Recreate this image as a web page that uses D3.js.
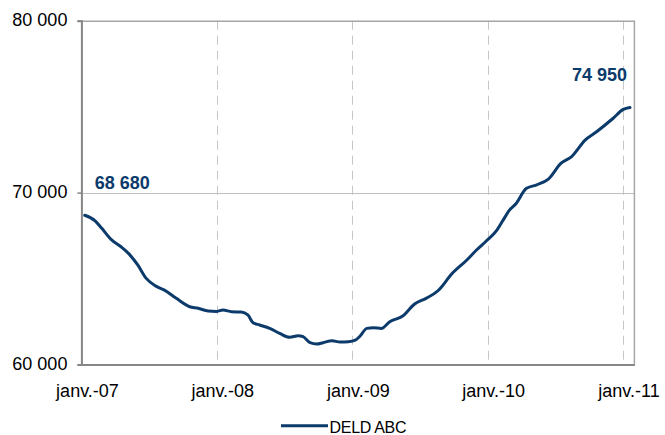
<!DOCTYPE html>
<html>
<head>
<meta charset="utf-8">
<script src="https://cdn.jsdelivr.net/npm/d3@7"></script>
<style>
  html, body { margin: 0; padding: 0; background: #fff; }
  svg { display: block; font-family: "Liberation Sans", Arial, sans-serif; }
</style>
</head>
<body>
<svg id="chart" width="665" height="435"></svg>
<script>
// ---- data ----
const dates = [
  "2007-01-10","2007-02-07","2007-02-25","2007-03-22","2007-04-18","2007-05-10","2007-06-02","2007-06-25",
  "2007-07-21","2007-08-13","2007-09-14","2007-10-20","2007-11-12","2007-12-09","2008-01-01","2008-01-18",
  "2008-02-10","2008-03-07","2008-03-25","2008-04-08","2008-04-26","2008-05-23","2008-06-19","2008-07-16",
  "2008-08-08","2008-08-21","2008-09-09","2008-09-27","2008-10-14","2008-11-07","2008-11-29","2008-12-21",
  "2009-01-09","2009-01-22","2009-02-09","2009-02-27","2009-03-20","2009-04-12","2009-05-17","2009-06-18",
  "2009-07-19","2009-08-20","2009-09-26","2009-11-06","2009-12-02","2009-12-29","2010-01-26","2010-02-09",
  "2010-03-01","2010-03-19","2010-04-15","2010-05-12","2010-06-13","2010-07-19","2010-08-15","2010-09-21",
  "2010-10-22","2010-12-05","2011-01-02","2011-01-20"
];
const values = [
  68680,68360,67920,67280,66850,66420,65790,65010,
  64560,64330,63850,63360,63270,63110,63090,63170,
  63070,63050,62880,62430,62300,62100,61810,61580,
  61670,61620,61270,61190,61270,61380,61310,61330,
  61420,61660,62100,62140,62100,62490,62820,63520,
  63850,64290,65260,66080,66660,67200,67820,68300,
  68980,69370,70240,70440,70770,71730,72080,73050,
  73540,74310,74840,74950
];
const seriesName = "DELD ABC";
const yTicks = [60000, 70000, 80000];
const xTickYears = ["2007-01-01","2008-01-01","2009-01-01","2010-01-01","2011-01-01"];
const xDomain = ["2007-01-01","2011-02-01"];
const monthNames = ["janv.","févr.","mars","avr.","mai","juin","juil.","août","sept.","oct.","nov.","déc."];

// ---- layout ----
const navy = "#0b3a6b";
const plot = { left: 81.4, right: 634.4, top: 20.7, bottom: 364.5 };
const parse = d3.timeParse("%Y-%m-%d");
const data = dates.map((d, i) => ({ date: parse(d), value: values[i] }));

const svg = d3.select("#chart");

const x = d3.scaleTime().domain(xDomain.map(parse)).range([plot.left, plot.right]);
const y = d3.scaleLinear().domain([60000, 80000]).range([plot.bottom, plot.top]);

const fmt = v => d3.format(",")(v).replace(/,/g, " ");

// vertical dashed gridlines at each January
svg.append("g").selectAll("line").data(xTickYears.map(parse)).join("line")
  .attr("x1", d => Math.round(x(d)) + 0.5).attr("x2", d => Math.round(x(d)) + 0.5)
  .attr("y1", plot.top).attr("y2", plot.bottom)
  .attr("stroke", "#c6c6c6").attr("stroke-width", 1)
  .attr("stroke-dasharray", "9,6");

// horizontal gridlines
svg.append("g").selectAll("line").data(yTicks.filter(v => v > 60000 && v < 80000)).join("line")
  .attr("x1", plot.left).attr("x2", plot.right)
  .attr("y1", d => Math.round(y(d)) + 0.5).attr("y2", d => Math.round(y(d)) + 0.5)
  .attr("stroke", "#c0c0c0").attr("stroke-width", 1);

// plot border (top and right)
svg.append("path")
  .attr("d", `M${plot.left},${plot.top + 0.5}H${plot.right}V${plot.bottom}`)
  .attr("fill", "none").attr("stroke", "#a6a6a6").attr("stroke-width", 1.5);

// y axis
const yAxis = d3.axisLeft(y).tickValues(yTicks).tickFormat(fmt).tickSize(4).tickPadding(10);
const gy = svg.append("g").attr("transform", `translate(${plot.left},0)`).call(yAxis);
gy.select(".domain").attr("stroke", "#868686").attr("stroke-width", 2);
gy.selectAll(".tick line").attr("stroke", "#868686").attr("stroke-width", 1.5);
gy.selectAll(".tick text").attr("font-size", 18).attr("fill", "#000")
  .attr("font-family", "Liberation Sans, Arial, sans-serif").attr("dy", "0.28em");

// x axis
const halfMonth = x(parse("2007-01-16")) - x(parse("2007-01-01"));
const xAxis = d3.axisBottom(x).tickValues(xTickYears.map(parse))
  .tickFormat(d => monthNames[d.getMonth()] + "-" + d3.timeFormat("%y")(d))
  .tickSize(0).tickPadding(0);
const gx = svg.append("g").attr("transform", `translate(0,${plot.bottom})`).call(xAxis);
gx.select(".domain").attr("stroke", "#868686").attr("stroke-width", 2);
gx.selectAll(".tick text").attr("font-size", 18).attr("fill", "#000")
  .attr("font-family", "Liberation Sans, Arial, sans-serif")
  .attr("x", halfMonth).attr("dy", null).attr("y", 32.5);

// line
const line = d3.line().x(d => x(d.date)).y(d => y(d.value)).curve(d3.curveMonotoneX);
svg.append("path").datum(data)
  .attr("d", line).attr("fill", "none")
  .attr("stroke", navy).attr("stroke-width", 3)
  .attr("stroke-linejoin", "round").attr("stroke-linecap", "round");

// data labels on first and last points
const first = data[0], last = data[data.length - 1];
svg.append("text").attr("x", x(first.date) + 10).attr("y", y(first.value) - 26)
  .attr("font-size", 18).attr("font-weight", "bold").attr("fill", navy)
  .text(fmt(first.value));
svg.append("text").attr("x", x(last.date) - 3).attr("y", y(last.value) - 26.5)
  .attr("text-anchor", "end")
  .attr("font-size", 18).attr("font-weight", "bold").attr("fill", navy)
  .text(fmt(last.value));

// legend
const lg = svg.append("g");
lg.append("line").attr("x1", 281).attr("x2", 328).attr("y1", 425.7).attr("y2", 425.7)
  .attr("stroke", navy).attr("stroke-width", 3);
lg.append("text").attr("x", 329.5).attr("y", 433.3)
  .attr("font-size", 16).attr("letter-spacing", "-0.3px").attr("fill", "#000")
  .text(seriesName);
</script>
</body>
</html>
